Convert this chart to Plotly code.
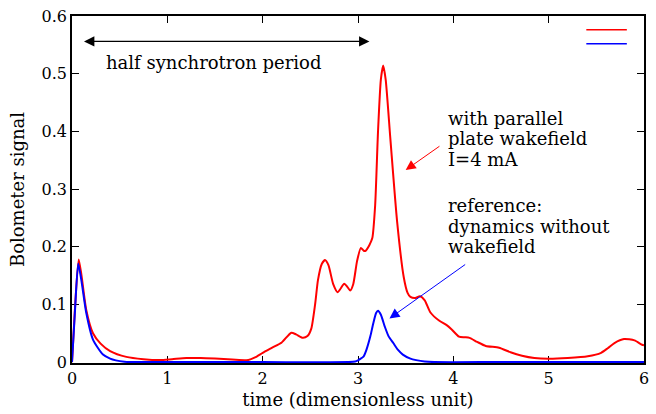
import plotly.graph_objects as go

# Bolometer signal vs. time, with the parallel-plate wakefield (I = 4 mA)
t_wake = [0.0, 0.03, 0.07, 0.10, 0.15, 0.22, 0.30, 0.40, 0.57, 0.75, 0.92, 1.05,
          1.20, 1.35, 1.50, 1.68, 1.85, 1.92, 2.00, 2.10, 2.20, 2.30, 2.35, 2.42,
          2.47, 2.51, 2.55, 2.58, 2.62, 2.654, 2.69, 2.74, 2.786, 2.82, 2.855,
          2.89, 2.918, 2.95, 2.99, 3.03, 3.06, 3.08, 3.12, 3.15, 3.18, 3.21, 3.24,
          3.264, 3.29, 3.34, 3.41, 3.48, 3.52, 3.55, 3.60, 3.65, 3.70, 3.76, 3.85,
          3.93, 3.98, 4.06, 4.12, 4.17, 4.25, 4.34, 4.48, 4.60, 4.72, 4.85, 5.00,
          5.20, 5.41, 5.55, 5.62, 5.69, 5.79, 5.90, 5.98, 6.00]
s_wake = [0.0, 0.09, 0.178, 0.15, 0.09, 0.05, 0.032, 0.019, 0.009, 0.005, 0.0035,
          0.005, 0.007, 0.007, 0.006, 0.0045, 0.0035, 0.008, 0.016, 0.025, 0.034,
          0.051, 0.048, 0.042, 0.045, 0.058, 0.10, 0.142, 0.170, 0.177, 0.168,
          0.135, 0.121, 0.128, 0.136, 0.130, 0.124, 0.135, 0.175, 0.198, 0.193,
          0.193, 0.203, 0.215, 0.272, 0.40, 0.49, 0.514, 0.49, 0.386, 0.244, 0.147,
          0.12, 0.113, 0.111, 0.114, 0.107, 0.086, 0.072, 0.064, 0.057, 0.044,
          0.043, 0.042, 0.035, 0.028, 0.025, 0.017, 0.011, 0.007, 0.0057, 0.007,
          0.010, 0.016, 0.024, 0.033, 0.040, 0.0376, 0.030, 0.029]

# Reference dynamics without wakefield
t_ref = [0.0, 0.03, 0.065, 0.10, 0.15, 0.22, 0.325, 0.40, 0.46, 0.55, 0.60, 1.0,
         2.0, 2.90, 2.97, 3.00, 3.02, 3.06, 3.09, 3.13, 3.16, 3.19, 3.21, 3.24,
         3.28, 3.32, 3.37, 3.42, 3.47, 3.55, 3.61, 3.70, 3.80, 4.5, 6.0]
s_ref = [0.0, 0.085, 0.171, 0.14, 0.085, 0.039, 0.013, 0.006, 0.003, 0.0005, 0.0,
         0.0, 0.0, 0.0, 0.001, 0.003, 0.005, 0.010, 0.022, 0.045, 0.067, 0.085,
         0.089, 0.082, 0.062, 0.045, 0.033, 0.021, 0.013, 0.006, 0.0034, 0.001,
         0.0, 0.0, 0.0]

x_ticks = [0, 1, 2, 3, 4, 5, 6]
y_ticks = [0, 0.1, 0.2, 0.3, 0.4, 0.5, 0.6]
y_tick_text = ["0", "0.1", "0.2", "0.3", "0.4", "0.5", "0.6"]

RED = "#ff0000"
BLUE = "#0000ff"
FONT = "DejaVu Serif"

fig = go.Figure()
fig.add_trace(go.Scatter(x=t_wake, y=s_wake, mode="lines",
                         line=dict(color=RED, width=2, shape="spline", smoothing=0.6),
                         showlegend=False))
fig.add_trace(go.Scatter(x=t_ref, y=s_ref, mode="lines",
                         line=dict(color=BLUE, width=2, shape="spline", smoothing=0.6),
                         showlegend=False))

# key samples (upper right)
fig.add_shape(type="line", x0=5.395, x1=5.82, y0=0.576, y1=0.576,
              xref="x", yref="y", line=dict(color=RED, width=1.5))
fig.add_shape(type="line", x0=5.395, x1=5.82, y0=0.552, y1=0.552,
              xref="x", yref="y", line=dict(color=BLUE, width=1.5))

txt = dict(family=FONT, size=18, color="black")

# half synchrotron period: double-headed arrow
fig.add_annotation(x=3.12, y=0.556, ax=0.11, ay=0.556, xref="x", yref="y",
                   axref="x", ayref="y", text="", showarrow=True,
                   arrowhead=2, startarrowhead=2, arrowside="end+start",
                   arrowsize=1.6, startarrowsize=1.6, arrowwidth=1.3, arrowcolor="black")
fig.add_annotation(x=1.486, y=0.520, xref="x", yref="y", text="half synchrotron period",
                   showarrow=False, font=txt, xanchor="center", yanchor="middle")

# wakefield label and arrow
for line_text, yy in [("with parallel", 0.423), ("plate wakefield", 0.387), ("I=4 mA", 0.351)]:
    fig.add_annotation(x=3.93, y=yy, xref="x", yref="y", text=line_text, showarrow=False,
                       font=txt, xanchor="left", yanchor="middle", borderpad=0)
fig.add_annotation(x=3.50, y=0.333, ax=3.87, ay=0.376, xref="x", yref="y",
                   axref="x", ayref="y", text="", showarrow=True, arrowhead=2,
                   arrowsize=2, arrowwidth=1, arrowcolor=RED)

# reference label and arrow
for line_text, yy in [("reference:", 0.271), ("dynamics without", 0.235), ("wakefield", 0.200)]:
    fig.add_annotation(x=3.93, y=yy, xref="x", yref="y", text=line_text, showarrow=False,
                       font=txt, xanchor="left", yanchor="middle", borderpad=0)
fig.add_annotation(x=3.33, y=0.0757, ax=4.14, ay=0.171, xref="x", yref="y",
                   axref="x", ayref="y", text="", showarrow=True, arrowhead=2,
                   arrowsize=2, arrowwidth=1, arrowcolor=BLUE)

axis_common = dict(showgrid=False, zeroline=False, showline=True, linecolor="black",
                   linewidth=1.5, mirror="ticks", ticks="inside", ticklen=7,
                   tickwidth=1, tickcolor="black", layer="below traces",
                   tickfont=dict(family=FONT, size=16, color="black"))

fig.update_xaxes(range=[0, 6], tickvals=x_ticks,
                 title=dict(text="time (dimensionless unit)",
                            font=dict(family=FONT, size=18, color="black"), standoff=6),
                 **axis_common)
fig.update_yaxes(range=[-0.0016, 0.6], tickvals=y_ticks, ticktext=y_tick_text,
                 title=dict(text="Bolometer signal",
                            font=dict(family=FONT, size=18, color="black"), standoff=12),
                 **axis_common)

fig.update_layout(width=656, height=414, margin=dict(l=72, r=7, t=15, b=48),
                  paper_bgcolor="white", plot_bgcolor="white",
                  font=dict(family=FONT, size=16, color="black"))

fig.write_html("out.html")
